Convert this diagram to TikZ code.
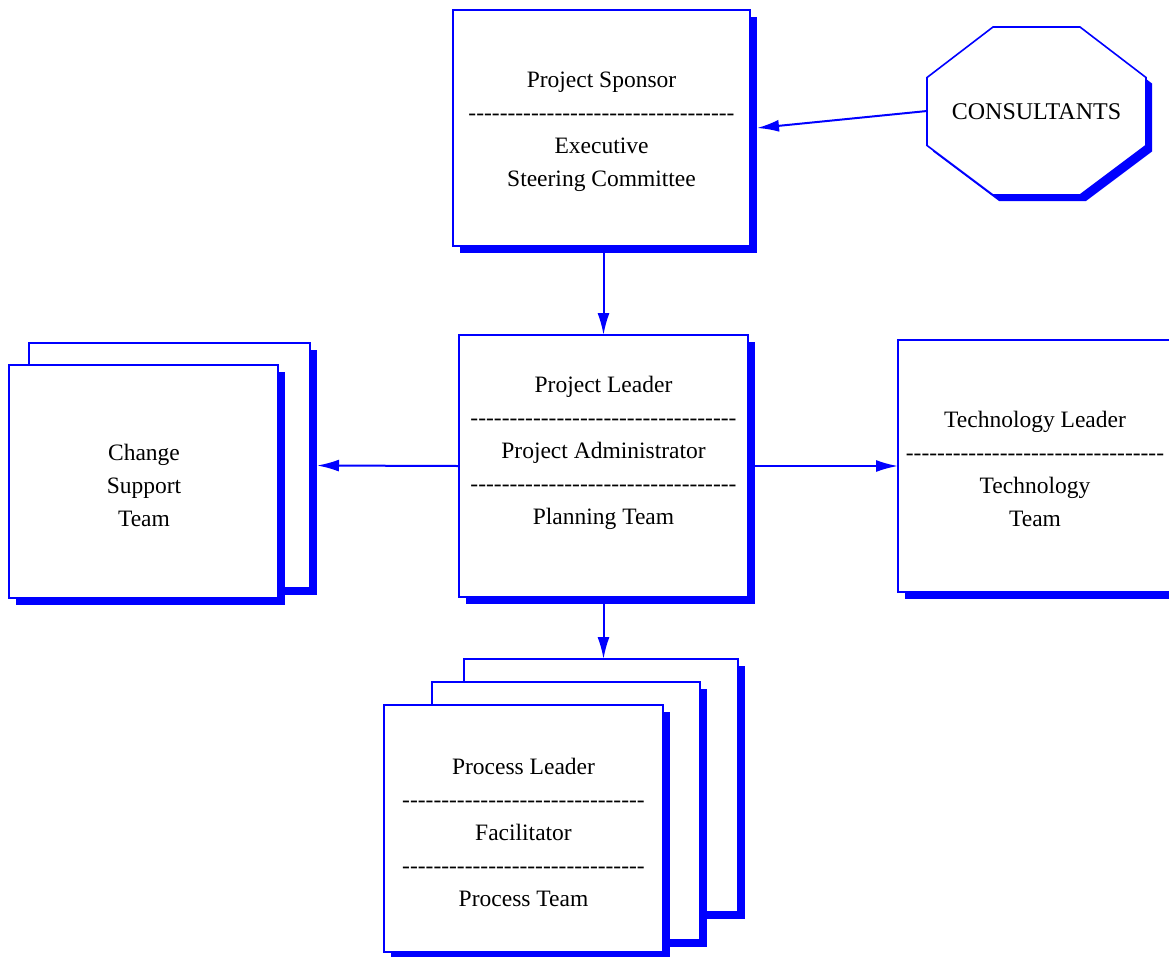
\documentclass[tikz,border=0pt]{standalone}
\usepackage{fontspec}
\setmainfont{Liberation Serif}
\usetikzlibrary{arrows.meta,shadows,calc}

% a row of separate hyphens (the kerns keep them from turning into dashes)
\ExplSyntaxOn
\cs_new:Npn \hyrow #1 { \prg_replicate:nn {#1} { -\kern0pt } }
\ExplSyntaxOff

\tikzset{
  panel/.style={draw=blue, line width=2pt, fill=white, outer sep=0pt, inner sep=0pt,
    drop shadow={shadow xshift=7pt, shadow yshift=-7pt, fill=blue, opacity=1}},
  txt/.style={align=center, inner sep=0pt, font=\fontsize{23.5}{33}\selectfont},
  conn/.style={draw=blue, line width=2pt, -{Latex[length=22pt,width=12pt]}},
}

\begin{document}
\begin{tikzpicture}[x=1pt, y=-1pt]
\useasboundingbox (0,0) rectangle (1169,956);
\fill[white] (0,0) rectangle (1169,956);
\clip (0,0) rectangle (1169,956);

% sponsor / steering committee
\node[panel, minimum width=297pt, minimum height=236pt] (sponsor) at (601.5,128) {};
\node[txt] (sponsortxt) at (601.5,132) {Project Sponsor\\ \hyrow{34}\\ Executive\\ Steering Committee};

% consultants octagon
\node[minimum width=219pt, minimum height=168pt, inner sep=0pt, outer sep=0pt] (consbox) at (1036.5,111) {};
\fill[blue, shift={(6,6)}] (993,27) -- (1080,27) -- (1146,77.5) -- (1146,145.5) -- (1080,195) -- (993,195) -- (927,145.5) -- (927,77.5) -- cycle;
\filldraw[draw=blue, line width=1.6pt, fill=white] (993,27) -- (1080,27) -- (1146,77.5) -- (1146,145.5) -- (1080,195) -- (993,195) -- (927,145.5) -- (927,77.5) -- cycle;
\node[txt, font=\fontsize{24}{33}\selectfont] (cons) at (1036.5,112) {CONSULTANTS};

% project leader
\node[panel, minimum width=289pt, minimum height=262pt] (lead) at (603.5,466) {};
\node[txt] (leadtxt) at (603.5,453) {Project Leader\\ \hyrow{34}\\ Project Administrator\\ \hyrow{34}\\ Planning Team};

% change support team (stack of two)
\node[panel, minimum width=281pt, minimum height=245pt] (chgB) at (169.5,465.5) {};
\node[panel, minimum width=269pt, minimum height=233pt] (chgA) at (143.5,481.5) {};
\node[txt] (chgtxt) at (144,485) {Change\\ Support\\ Team};

% technology team
\node[panel, minimum width=276pt, minimum height=252pt] (tech) at (1036,466) {};
\node[txt] (techtxt) at (1035,468.5) {Technology Leader\\ \hyrow{33}\\ Technology\\ Team};

% process teams (stack of three)
\node[panel, minimum width=274pt, minimum height=253pt] (procC) at (601,785.5) {};
\node[panel, minimum width=268pt, minimum height=258pt] (procB) at (566,811) {};
\node[panel, minimum width=279pt, minimum height=247pt] (procA) at (523.5,828.5) {};
\node[txt] (proctxt) at (523.5,832) {Process Leader\\ \hyrow{31}\\ Facilitator\\ \hyrow{31}\\ Process Team};

% connectors
\draw[conn] (consbox.west) -- ($(sponsor.east)+(7,0)$);
\draw[conn] ($(lead.north |- sponsor.south)+(0,7)$) -- (lead.north);
\draw[conn] (lead.west) -- ($(chgB.east)+(7,0)$);
\draw[conn] ($(lead.east)+(7,0)$) -- (tech.west);
\draw[conn] ($(lead.south)+(0,7)$) -- (lead.south |- procC.north);
\end{tikzpicture}
\end{document}
